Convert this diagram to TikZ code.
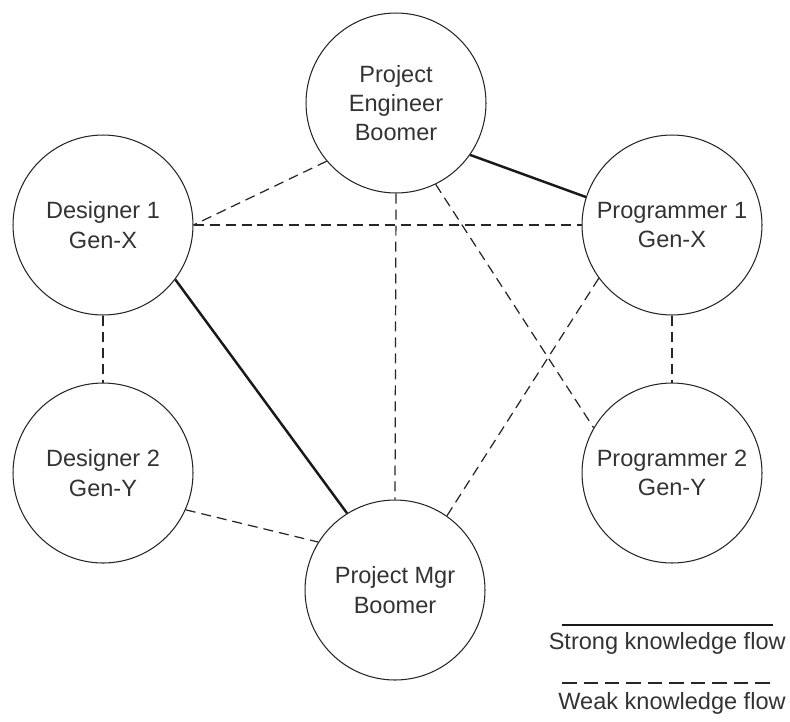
\documentclass[tikz,border=0pt]{standalone}
\usepackage{fontspec}
\setmainfont{Liberation Sans}
\usetikzlibrary{positioning}

\begin{document}
\begin{tikzpicture}[x=0.02cm, y=-0.02cm, node distance=1.34cm]

\tikzstyle{cirkel}=[circle, draw=black!85, line width=0.6pt, minimum size=3.6cm, inner sep=0pt, align=center, text=black!80, font=\fontsize{13.4}{16.7}\selectfont]
\tikzstyle{staerk}=[draw=black!90, line width=1.4pt]
\tikzstyle{svag}=[draw=black!85, line width=0.7pt, dash pattern=on 0.2cm off 0.12cm]
\tikzstyle{tekst}=[anchor=east, inner sep=0pt, text=black!80, font=\fontsize{13.4}{16.7}\selectfont]

\useasboundingbox (0,0) rectangle (790,721);

\node[cirkel] (engineer) at (396,103) {Project\\Engineer\\Boomer};
\node[cirkel] (designer1) at (103,225) {Designer 1\\Gen-X};
\node[cirkel, below=of designer1] (designer2) {Designer 2\\Gen-Y};
\node[cirkel] (programmer1) at (672,225) {Programmer 1\\Gen-X};
\node[cirkel, below=of programmer1] (programmer2) {Programmer 2\\Gen-Y};
\node[cirkel] (manager) at (395,590) {Project Mgr\\Boomer};

\draw[staerk] (engineer.-35) to (programmer1.162);
\draw[staerk] (designer1.-37) to (manager.122);
\draw[svag] (engineer.220) to (designer1.east);
\draw[svag] (designer1.east) to (programmer1.west);
\draw[svag] (engineer.south) to (manager.north);
\draw[svag] (engineer.-64) to (programmer2.150);
\draw[svag] (programmer1.216) to (manager.55);
\draw[svag] (designer1.south) to (designer2.north);
\draw[svag] (programmer1.south) to (programmer2.north);
\draw[svag] (designer2.-24) to (manager.148);

% forklaring
\coordinate (s1) at (562,625);
\coordinate (s2) at (773,625);
\coordinate (w1) at (562,683);
\coordinate (w2) at (773,683);
\draw[staerk] (s1) to (s2);
\node[tekst] (strong) at (786,643) {Strong knowledge flow};
\draw[svag, dash pattern=on 0.29cm off 0.14cm] (w1) to (w2);
\node[tekst] (weak) at (786,703) {Weak knowledge flow};

\end{tikzpicture}
\end{document}
